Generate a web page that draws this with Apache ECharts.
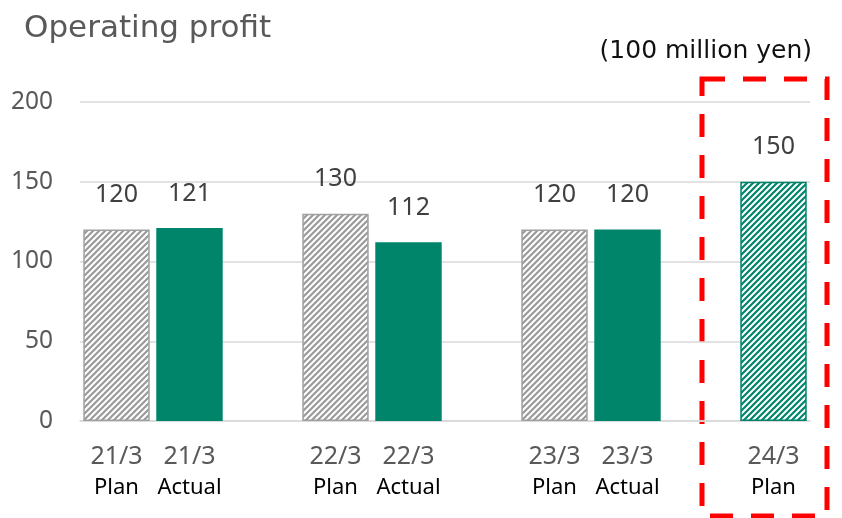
<!DOCTYPE html>
<html>
<head>
<meta charset="utf-8">
<script src="https://cdn.jsdelivr.net/npm/echarts@6/dist/echarts.min.js"></script>
<style>
  html, body { margin: 0; padding: 0; background: #fff; }
  #main { width: 842px; height: 518px; }
</style>
</head>
<body>
<div id="main"></div>
<script>
// data (empty strings / '-' are the gaps between years)
var periods = ['21/3', '21/3', '', '22/3', '22/3', '', '23/3', '23/3', '', '24/3'];
var kinds   = ['Plan', 'Actual', '', 'Plan', 'Actual', '', 'Plan', 'Actual', '', 'Plan'];
var profit  = [120, 121, '-', 130, 112, '-', 120, 120, '-', 150];
var yTicks  = [0, 50, 100, 150, 200];

var green = '#00846a';
var font = 'Noto Sans';

function hatch(color) {
    var s = 6;
    var c = document.createElement('canvas');
    c.width = s; c.height = s;
    var ctx = c.getContext('2d');
    ctx.fillStyle = '#fff';
    ctx.fillRect(0, 0, s, s);
    ctx.strokeStyle = color;
    ctx.lineWidth = 2.2;
    ctx.beginPath();
    ctx.moveTo(0, s); ctx.lineTo(s, 0);
    ctx.moveTo(-1, 1); ctx.lineTo(1, -1);
    ctx.moveTo(s - 1, s + 1); ctx.lineTo(s + 1, s - 1);
    ctx.stroke();
    return { image: c, repeat: 'repeat' };
}

var grayHatch = hatch('#9a9a9a');
var greenHatch = hatch(green);

var categories = periods.map(function (p, i) { return p + '\n' + kinds[i]; });

var barData = profit.map(function (v, i) {
    var style;
    if (kinds[i] === 'Actual') {
        style = { color: green };
    } else if (periods[i] === '24/3') {
        style = { color: greenHatch, borderColor: green, borderWidth: 1.5 };
    } else {
        style = { color: grayHatch, borderColor: '#a0a0a0', borderWidth: 1.5 };
    }
    return { value: v, itemStyle: style };
});

var myChart = echarts.init(document.getElementById('main'));

var option = {
    animation: false,
    title: {
        text: 'Operating profit',
        left: 19,
        top: 8,
        textStyle: { fontFamily: 'DejaVu Sans', fontSize: 31, fontWeight: 'normal', color: '#595959' }
    },
    grid: { left: 80, right: 32, top: 102, bottom: 97 },
    xAxis: {
        type: 'category',
        data: categories,
        axisTick: { show: false },
        axisLine: { lineStyle: { color: '#d9d9d9', width: 1.5 } },
        axisLabel: {
            interval: 0,
            margin: 20,
            formatter: function (v) {
                var p = v.split('\n');
                if (!p[0]) return '';
                return '{a|' + p[0] + '}\n{b|' + p[1] + '}';
            },
            rich: {
                a: { fontFamily: font, fontSize: 25, color: '#595959', lineHeight: 31 },
                b: { fontFamily: font, fontSize: 22, color: '#000', lineHeight: 31 }
            }
        }
    },
    yAxis: {
        type: 'value',
        min: yTicks[0],
        max: yTicks[yTicks.length - 1],
        interval: 50,
        axisLine: { show: false },
        axisTick: { show: false },
        splitLine: { lineStyle: { color: '#d9d9d9', width: 1.5 } },
        axisLabel: { margin: 27, fontFamily: font, fontSize: 24.5, color: '#595959' }
    },
    graphic: [
        {
            type: 'text',
            right: 30,
            top: 39,
            style: { text: '(100 million yen)', fontFamily: 'DejaVu Sans', fontSize: 25, fill: '#111' }
        },
        {
            type: 'rect',
            shape: { x: 702, y: 79, width: 125, height: 437 },
            style: { fill: 'none', stroke: '#ff0000', lineWidth: 5, lineDash: [23, 18] }
        }
    ],
    series: [
        {
            name: 'Operating profit',
            type: 'bar',
            barCategoryGap: '9%',
            data: barData,
            label: {
                show: true,
                position: 'top',
                distance: 22,
                fontFamily: font,
                fontSize: 25,
                color: '#404040'
            }
        }
    ]
};

myChart.setOption(option);
</script>
</body>
</html>
